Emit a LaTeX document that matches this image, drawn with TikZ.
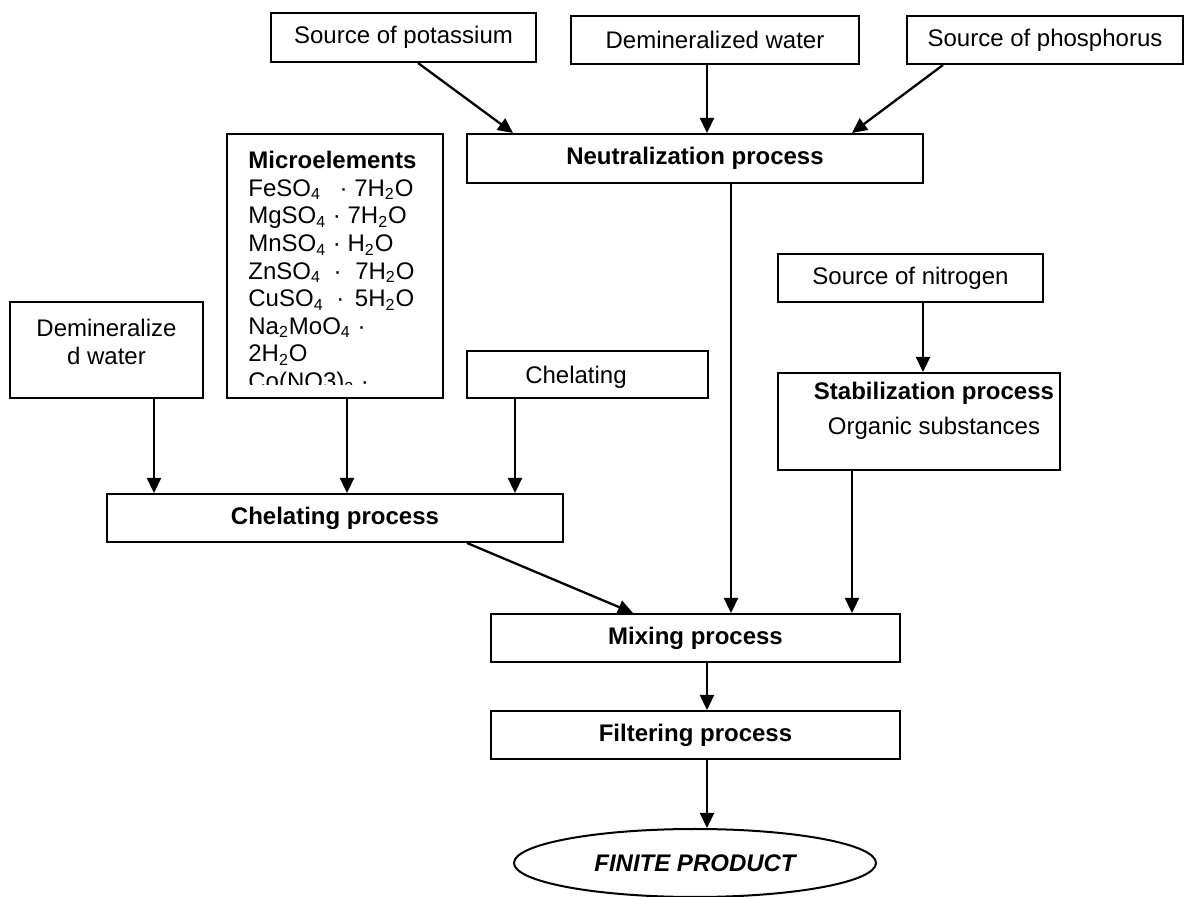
\documentclass[tikz,border=0pt]{standalone}
\usepackage{fontspec}
\setmainfont{Liberation Sans}
\usetikzlibrary{arrows.meta,shapes.geometric}
\begin{document}
\begin{tikzpicture}[x=0.5pt,y=-0.5pt,
  box/.style={draw,line width=1pt,inner sep=0pt,font=\fontsize{12}{13.8}\selectfont},
  bbox/.style={box,font=\fontsize{12}{13.8}\selectfont\bfseries},
  lbl/.style={inner sep=0pt,font=\fontsize{12}{13.8}\selectfont,align=center},
  arr/.style={line width=1.15pt,-{Triangle[length=7.5pt,width=7pt]}}]
\useasboundingbox (0,0) rectangle (1185,897);
% top row
\node[box,minimum width=132.5pt,minimum height=24.5pt] (pot) at (403.5,37.5) {Source of potassium};
\node[box,minimum width=144pt,minimum height=24pt] (dw1) at (715,40) {Demineralized water};
\node[box,minimum width=138pt,minimum height=24pt] (phos) at (1045,40) {Source of phosphorus};
\node[bbox,minimum width=228pt,minimum height=24.5pt] (neut) at (695,158.5) {Neutralization process};
% microelements
\node[box,minimum width=108pt,minimum height=132pt] (micro) at (335,266) {};
\begin{scope}
\clip (227,134) rectangle (443,385);
\node[lbl,align=left,anchor=north west] (microt) at (248,151) {\textbf{Microelements}\\
FeSO\textsubscript{4}\hspace{6pt} · 7H\textsubscript{2}O\\
MgSO\textsubscript{4} · 7H\textsubscript{2}O\\
MnSO\textsubscript{4} · H\textsubscript{2}O\\
ZnSO\textsubscript{4}\hspace{3pt} · \hspace{3.5pt}7H\textsubscript{2}O\\
CuSO\textsubscript{4}\hspace{3pt} · \hspace{2pt}5H\textsubscript{2}O\\
Na\textsubscript{2}MoO\textsubscript{4} ·\\
2H\textsubscript{2}O\\
Co(NO3)\textsubscript{2} ·};
\end{scope}
% left boxes
\node[box,minimum width=96.5pt,minimum height=48pt] (dw2) at (106.5,350) {};
\node[lbl] (dw2t) at (106.5,342) {Demineralize\\d water};
\node[box,minimum width=120.5pt,minimum height=23.5pt] (chel) at (587.5,374.5) {};
\node[lbl] (chelt) at (576,377) {Chelating};
\node[bbox,minimum width=228pt,minimum height=24pt] (chp) at (335,518) {Chelating process};
% right boxes
\node[box,minimum width=132.5pt,minimum height=24pt] (nit) at (910.5,278) {Source of nitrogen};
\node[box,minimum width=141pt,minimum height=48.5pt] (stab) at (919,421.5) {};
\node[lbl] (stabt) at (934,411) {\textbf{Stabilization process}\\[3.7pt]Organic substances};
% bottom
\node[bbox,minimum width=204.5pt,minimum height=24pt] (mix) at (695.5,638) {Mixing process};
\node[bbox,minimum width=204.5pt,minimum height=24pt] (filt) at (695.5,735) {Filtering process};
\node[draw,ellipse,line width=1pt,minimum width=181pt,minimum height=34pt,inner sep=0pt,
  font=\fontsize{12}{13.8}\selectfont\bfseries\itshape] (prod) at (695,863) {FINITE PRODUCT};
% connectors
\draw[arr] ([xshift=7.25pt]pot.south) -- ([xshift=-91pt]neut.north);
\draw[arr] ([xshift=-4pt]dw1.south) -- ([xshift=-4pt]dw1.south |- neut.north);
\draw[arr] ([xshift=-51pt]phos.south) -- ([xshift=78.5pt]neut.north);
\draw[arr] ([xshift=18pt]neut.south) -- ([xshift=18pt]neut.south |- mix.north);
\draw[arr] ([xshift=6.25pt]nit.south) -- ([xshift=6.25pt]nit.south |- stab.north);
\draw[arr] ([xshift=-33.5pt]stab.south) -- ([xshift=-33.5pt]stab.south |- mix.north);
\draw[arr] ([xshift=23.75pt]dw2.south) -- ([xshift=23.75pt]dw2.south |- chp.north);
\draw[arr] ([xshift=6pt]micro.south) -- ([xshift=6pt]micro.south |- chp.north);
\draw[arr] ([xshift=-36.25pt]chel.south) -- ([xshift=-36.25pt]chel.south |- chp.north);
\draw[arr] ([xshift=66pt]chp.south) -- ([xshift=-31.25pt]mix.north);
\draw[arr] ([xshift=5.75pt]mix.south) -- ([xshift=5.75pt]mix.south |- filt.north);
\draw[arr] ([xshift=5.75pt]filt.south) -- ([xshift=5.75pt]filt.south |- prod.north);
\end{tikzpicture}
\end{document}
